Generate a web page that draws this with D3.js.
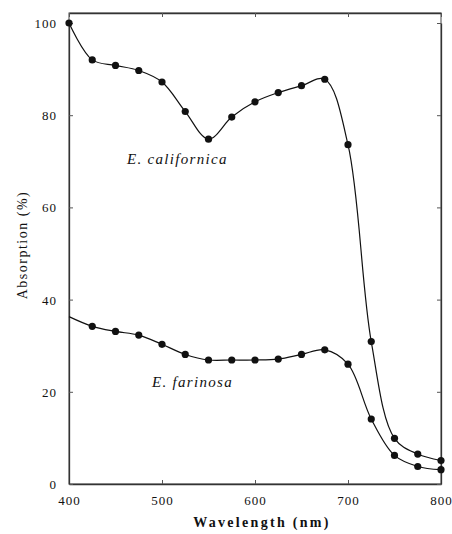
<!DOCTYPE html>
<html><head><meta charset="utf-8">
<script src="https://cdn.jsdelivr.net/npm/d3@7"></script>
<style>
body{margin:0;background:#fff;}
svg text{font-family:"Liberation Serif","Times New Roman","DejaVu Serif",serif;fill:#111;}
</style></head>
<body>
<svg id="c" width="452" height="534"></svg>
<script>
const wavelengths = [400,425,450,475,500,525,550,575,600,625,650,675,700,725,750,775,800];
const californica = [100,92,90.8,89.7,87.2,80.8,74.8,79.6,82.9,84.9,86.4,87.8,73.6,30.9,9.9,6.5,5.1];
const farinosa = [36.3,34.2,33.1,32.3,30.3,28.1,26.9,26.9,26.9,27.1,28.1,29.1,26.0,14.1,6.2,3.8,3.1];
const farinosaDots = [false,true,true,true,true,true,true,true,true,true,true,true,true,true,true,true,true];
const xTicks = [400,500,600,700,800];
const yTicks = [0,20,40,60,80,100];
const seriesLabels = ["E.  californica","E.  farinosa"];

const svg = d3.select("#c");
const L=69,R=441,T=13,B=484;
const x = d3.scaleLinear().domain([400,800]).range([L,R]);
const y = d3.scaleLinear().domain([0,100]).range([B,23]);
const ink="#111";
const serif='"Liberation Serif","Times New Roman",serif';

svg.append("rect").attr("x",L).attr("y",T).attr("width",R-L).attr("height",B-T)
  .attr("fill","none").attr("stroke","#444").attr("stroke-width",1);

const xAxis = svg.append("g").attr("transform",`translate(0,${B})`)
  .call(d3.axisBottom(x).tickValues(xTicks).tickSizeInner(-4).tickSizeOuter(0).tickPadding(12));
const yAxis = svg.append("g").attr("transform",`translate(${L},0)`)
  .call(d3.axisLeft(y).tickValues(yTicks).tickSizeInner(-4).tickSizeOuter(0).tickPadding(12));
svg.append("g").attr("transform",`translate(0,${T})`)
  .call(d3.axisTop(x).tickValues(xTicks).tickSizeInner(-4).tickSizeOuter(0).tickFormat(""));
svg.append("g").attr("transform",`translate(${R},0)`)
  .call(d3.axisRight(y).tickValues(yTicks).tickSizeInner(-4).tickSizeOuter(0).tickFormat(""));
svg.selectAll("g").attr("font-family",serif);
svg.selectAll(".domain").attr("stroke","#333").attr("stroke-width",1.3);
svg.selectAll(".tick line").attr("stroke","#555");
svg.selectAll(".tick text").style("font-family",serif).attr("font-size",13)
  .attr("letter-spacing",1).attr("fill",ink);
yAxis.selectAll(".tick text").attr("dy","0.35em");

const line = d3.line().x(d=>x(d[0])).y(d=>y(d[1])).curve(d3.curveCatmullRom.alpha(0.5));
[californica,farinosa].forEach((s,si)=>{
  const pts = wavelengths.map((w,i)=>[w,s[i],si===1?farinosaDots[i]:true]);
  svg.append("path").datum(pts).attr("d",line).attr("fill","none").attr("stroke",ink).attr("stroke-width",1.2);
  svg.selectAll(null).data(pts.filter(p=>p[2])).enter().append("circle")
    .attr("cx",d=>x(d[0])).attr("cy",d=>y(d[1])).attr("r",3.6).attr("fill",ink);
});

svg.append("text").attr("x",127).attr("y",164).style("font-family",serif).attr("font-style","italic").attr("font-size",15)
  .attr("letter-spacing",1.3).text(seriesLabels[0]);
svg.append("text").attr("x",152).attr("y",387).style("font-family",serif).attr("font-style","italic").attr("font-size",15)
  .attr("letter-spacing",1.3).text(seriesLabels[1]);

svg.append("text").attr("transform","translate(27,245) rotate(-90)").attr("text-anchor","middle")
  .style("font-family",serif).attr("font-size",14).attr("letter-spacing",1.5).text("Absorption  (%)");
svg.append("text").attr("x",262).attr("y",527).attr("text-anchor","middle").attr("font-weight","bold")
  .style("font-family",serif).attr("font-size",14).attr("letter-spacing",2.3).text("Wavelength  (nm)");
</script>
</body></html>
